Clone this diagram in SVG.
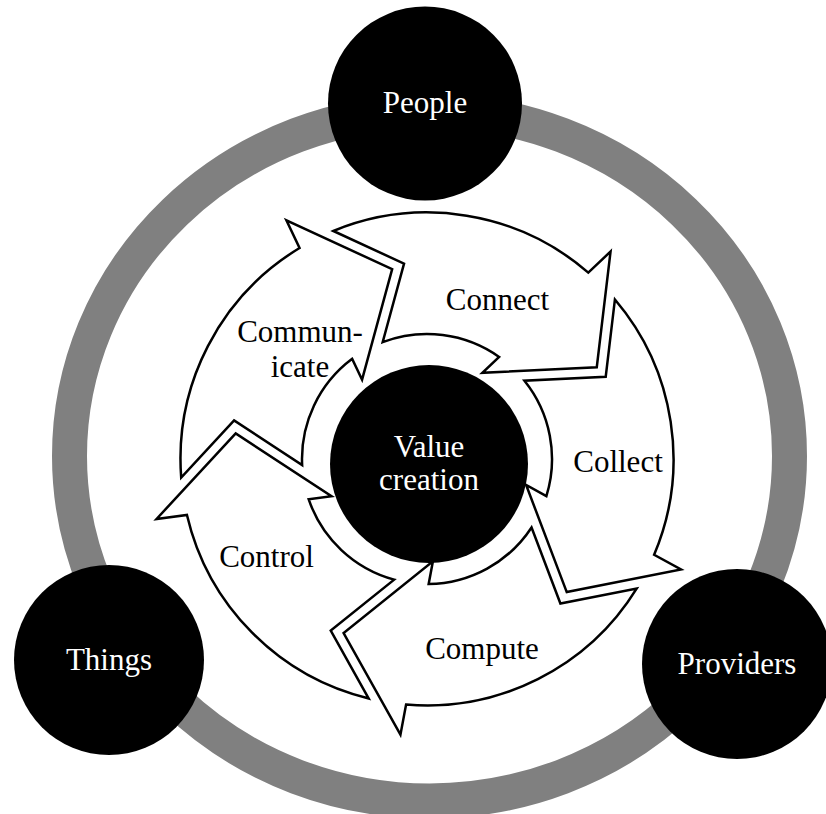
<svg xmlns="http://www.w3.org/2000/svg" xmlns:xlink="http://www.w3.org/1999/xlink" width="826" height="814" viewBox="0 0 826 814">
  <style>
    .disc { fill: #000000; }
    .arrow { fill: #ffffff; stroke: #000000; stroke-width: 2.5; stroke-linejoin: miter; stroke-miterlimit: 10; }
    .lbl { font-family: "Liberation Serif", "Times New Roman", serif; font-size: 31px; text-anchor: middle; fill: #000000; }
    .lbl-w { font-family: "Liberation Serif", "Times New Roman", serif; font-size: 31px; text-anchor: middle; fill: #ffffff; }
  </style>
  <defs>
    <!-- one curved block arrow of the cycle, drawn around the cycle centre (0,0);
         the tail is notched to sit against the previous arrow's head -->
    <path id="cycle-arrow" class="arrow"
          d="M -93.65,-228.02
             A 246.5 246.5 0 0 1 161.29,-186.41
             L 183.55,-207.46
             L 169.77,-91.79
             L 55.37,-86.25
             L 72.13,-102.09
             A 125 125 0 0 0 -44.33,-116.88
             L -22.96,-195.36
             Z"/>
  </defs>

  <rect width="826" height="814" fill="#ffffff"/>

  <!-- outer ring linking the three stakeholder nodes -->
  <g id="connectors">
    <ellipse cx="429.5" cy="456" rx="360" ry="345" fill="none" stroke="#808080" stroke-width="35"/>
  </g>

  <g id="node-people">
    <circle class="disc" cx="425" cy="103.5" r="97"/>
    <text class="lbl-w" x="425" y="113">People</text>
  </g>
  <g id="node-things">
    <circle class="disc" cx="109" cy="660" r="95"/>
    <text class="lbl-w" x="109" y="670">Things</text>
  </g>
  <g id="node-providers">
    <circle class="disc" cx="737" cy="664" r="95"/>
    <text class="lbl-w" x="737" y="674">Providers</text>
  </g>

  <!-- the five-step cycle -->
  <g id="step-connect">
    <use xlink:href="#cycle-arrow" href="#cycle-arrow" transform="translate(427,459) rotate(0)"/>
    <text class="lbl" x="497.5" y="310">Connect</text>
  </g>
  <g id="step-collect">
    <use xlink:href="#cycle-arrow" href="#cycle-arrow" transform="translate(427,459) rotate(72)"/>
    <text class="lbl" x="618" y="472">Collect</text>
  </g>
  <g id="step-compute">
    <use xlink:href="#cycle-arrow" href="#cycle-arrow" transform="translate(427,459) rotate(144)"/>
    <text class="lbl" x="482" y="659">Compute</text>
  </g>
  <g id="step-control">
    <use xlink:href="#cycle-arrow" href="#cycle-arrow" transform="translate(427,459) rotate(216)"/>
    <text class="lbl" x="266.5" y="567">Control</text>
  </g>
  <g id="step-communicate">
    <use xlink:href="#cycle-arrow" href="#cycle-arrow" transform="translate(427,459) rotate(288)"/>
    <text class="lbl" x="300" y="342">Commun-</text>
    <text class="lbl" x="300" y="377">icate</text>
  </g>

  <g id="node-value">
    <circle class="disc" cx="429" cy="464" r="99"/>
    <text class="lbl-w" x="429" y="457">Value</text>
    <text class="lbl-w" x="429" y="490">creation</text>
  </g>
</svg>
